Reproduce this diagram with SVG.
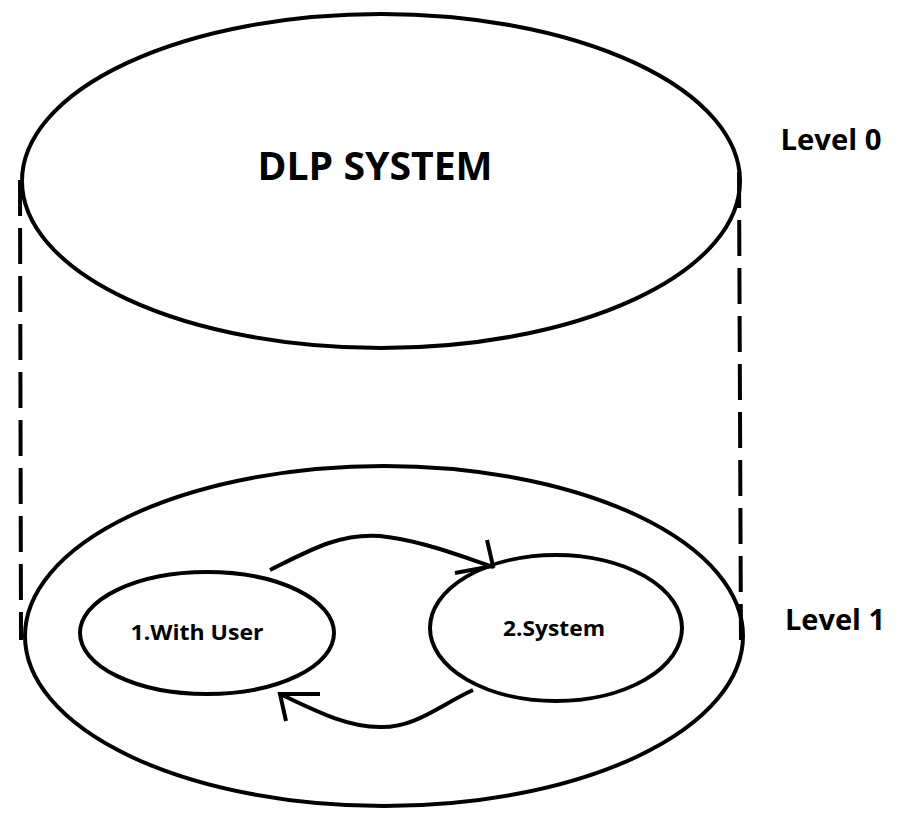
<svg xmlns="http://www.w3.org/2000/svg" width="898" height="817" viewBox="0 0 898 817">
<style>
.s{fill:none;stroke:#000;stroke-width:4}
.d{fill:none;stroke:#000;stroke-width:4;stroke-dasharray:36,12}
.t{font-family:"Open Sans","DejaVu Sans",sans-serif;font-weight:bold;fill:#000}
</style>
<rect width="898" height="817" fill="#fff"/>
<g id="level0">
<ellipse class="s" cx="381" cy="181" rx="359" ry="167"/>
<text class="t" x="375" y="180" font-size="40" text-anchor="middle" textLength="235" lengthAdjust="spacingAndGlyphs">DLP SYSTEM</text>
</g>
<g id="level1">
<ellipse class="s" cx="384" cy="636" rx="359" ry="170"/>
</g>
<g id="node1">
<ellipse class="s" cx="207" cy="633" rx="127" ry="61"/>
<text class="t" x="197" y="640" font-size="22" text-anchor="middle" textLength="133" lengthAdjust="spacingAndGlyphs">1.With User</text>
</g>
<g id="node2">
<ellipse class="s" cx="556" cy="628" rx="126" ry="73"/>
<text class="t" x="554" y="636" font-size="22" text-anchor="middle" textLength="102" lengthAdjust="spacingAndGlyphs">2.System</text>
</g>
<g id="labels">
<text class="t" x="831" y="150" font-size="28" text-anchor="middle" textLength="101" lengthAdjust="spacingAndGlyphs">Level 0</text>
<text class="t" x="835" y="630" font-size="28" text-anchor="middle" textLength="100" lengthAdjust="spacingAndGlyphs">Level 1</text>
</g>
<g id="connectors">
<path class="d" d="M20,180 L21,640"/>
<path class="d" d="M739,172 L741,645"/>
<path class="s" d="M270,570 C310,550 340,533 380,536 C420,540 460,556 494,567"/>
<path class="s" d="M487,540 L493,566 L455,573"/>
<path class="s" d="M473,690 C440,705 415,728 380,727 C345,727 310,708 280,694"/>
<path class="s" d="M320,694 L280,694 L286,721"/>
</g>
</svg>
